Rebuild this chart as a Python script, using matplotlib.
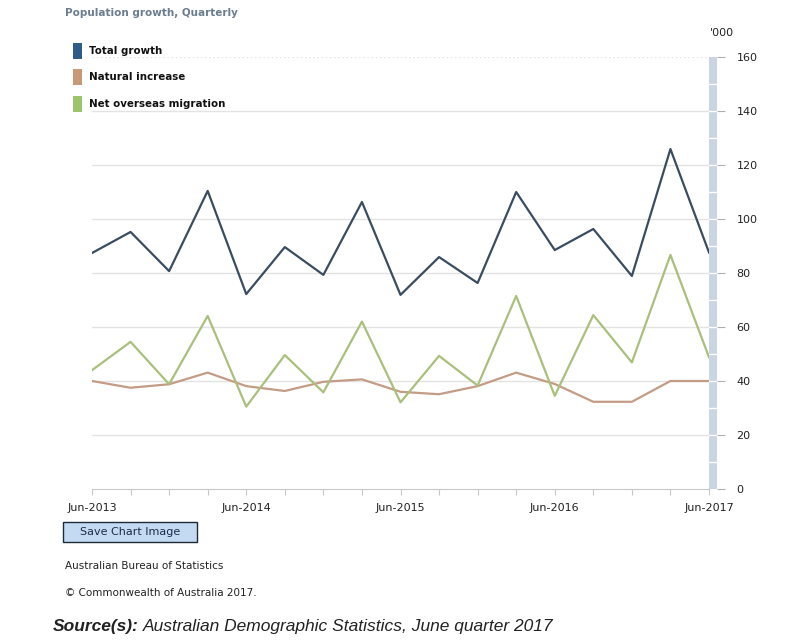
import matplotlib
matplotlib.use("Agg")
import matplotlib.pyplot as plt
from matplotlib.patches import Rectangle

quarters = ["Jun-2013", "Sep-2013", "Dec-2013", "Mar-2014", "Jun-2014", "Sep-2014",
            "Dec-2014", "Mar-2015", "Jun-2015", "Sep-2015", "Dec-2015", "Mar-2016",
            "Jun-2016", "Sep-2016", "Dec-2016", "Mar-2017", "Jun-2017"]
total_growth = [87.4, 95.2, 80.7, 110.4, 72.2, 89.6, 79.3, 106.3, 71.9, 85.9, 76.3,
                110.0, 88.5, 96.3, 78.9, 125.9, 87.6]
natural_increase = [40.0, 37.5, 38.8, 43.1, 38.1, 36.3, 39.7, 40.6, 36.0, 35.1, 38.1,
                    43.1, 38.9, 32.3, 32.3, 40.0, 40.0]
net_overseas = [44.0, 54.5, 38.8, 64.1, 30.5, 49.6, 35.8, 62.0, 32.1, 49.3, 38.3,
                71.5, 34.5, 64.4, 46.9, 86.7, 48.8]
y_ticks = [0, 20, 40, 60, 80, 100, 120, 140, 160]
x_labels_shown = ["Jun-2013", "Jun-2014", "Jun-2015", "Jun-2016", "Jun-2017"]

W, H = 808, 640
fig = plt.figure(figsize=(W / 100, H / 100), dpi=100)
fig.patch.set_facecolor("white")

def fx(px):
    return px / W

def fy(py):
    return 1 - py / H

L, R, T, B = 92, 709, 57, 489
ax = fig.add_axes([fx(L), fy(B), fx(R) - fx(L), fy(T) - fy(B)])
x = list(range(len(quarters)))

c_total = "#3a4d60"
c_nat = "#c49c86"
c_nom = "#a9c07c"

for v in y_ticks[1:]:
    ax.axhline(v, color="#e3e3e3", lw=1, zorder=0,
               ls=(0, (1, 2)) if v == 160 else "-")

ax.plot(x, natural_increase, color=c_nat, lw=1.6, zorder=2)
ax.plot(x, net_overseas, color=c_nom, lw=1.6, zorder=3)
ax.plot(x, total_growth, color=c_total, lw=1.6, zorder=4)

ax.set_xlim(0, len(quarters) - 1)
ax.set_ylim(0, 160)
for s in ["top", "right", "left"]:
    ax.spines[s].set_visible(False)
ax.spines["bottom"].set_color("#c8c8c8")
ax.set_yticks([])
ax.set_xticks(x)
ax.set_xticklabels([q if q in x_labels_shown else "" for q in quarters],
                   fontsize=8, color="#222222", family="DejaVu Sans")
ax.tick_params(axis="x", length=4, color="#c8c8c8", pad=6)

# right axis bar
bx = fig.add_axes([fx(709), fy(B), fx(717) - fx(709), fy(T) - fy(B)])
bx.set_xlim(0, 1)
bx.set_ylim(0, 160)
bx.add_patch(Rectangle((0, 0), 1, 160, facecolor="#c9d5e3", edgecolor="none"))
for v in range(10, 160, 10):
    bx.axhline(v, color="white", lw=1)
for s in bx.spines.values():
    s.set_visible(False)
bx.set_xticks([])
bx.yaxis.tick_right()
bx.set_yticks(y_ticks)
bx.set_yticklabels([str(v) for v in y_ticks], fontsize=8, color="#222222")
bx.tick_params(axis="y", length=6, color="#b0b0b0", pad=8)
fig.text(fx(710), fy(33), "'000", fontsize=8, color="#222222", va="center", ha="left")

# title
fig.text(fx(65), fy(13), "Population growth, Quarterly", fontsize=7.5,
         fontweight="bold", color="#6b7d90", va="center", ha="left")

# legend
legend_items = [("Total growth", "#2f5b88", 51), ("Natural increase", "#c8987a", 77),
                ("Net overseas migration", "#9cc46a", 104)]
for label, col, py in legend_items:
    fig.patches.append(Rectangle((fx(73), fy(py + 8)), fx(9), 16 / H,
                                 transform=fig.transFigure, facecolor=col,
                                 edgecolor="none"))
    fig.text(fx(89), fy(py), label, fontsize=7.4, fontweight="bold", color="#111111",
             va="center", ha="left")

# button
fig.patches.append(Rectangle((fx(63), fy(542)), fx(134), 20 / H,
                             transform=fig.transFigure, facecolor="#c4daf2",
                             edgecolor="#1e2a3a", lw=1))
fig.text(fx(130), fy(532), "Save Chart Image", fontsize=8, color="#1a2c4a",
         va="center", ha="center")

fig.text(fx(65), fy(566), "Australian Bureau of Statistics", fontsize=7.5,
         color="#222222", va="center", ha="left")
fig.text(fx(65), fy(593), "\u00a9 Commonwealth of Australia 2017.", fontsize=7.5,
         color="#222222", va="center", ha="left")

t1 = fig.text(fx(53), fy(627), "Source(s):", fontsize=12.5, fontweight="bold",
              style="italic", family="Liberation Sans", color="#222222",
              va="center", ha="left")
fig.canvas.draw()
bb = t1.get_window_extent()
fig.text(bb.x1 / W + 4 / W, fy(627),
         "Australian Demographic Statistics, June quarter 2017", fontsize=12.5,
         style="italic", family="Liberation Sans", color="#222222",
         va="center", ha="left")

fig.savefig("out.png", dpi=100, facecolor="white")
